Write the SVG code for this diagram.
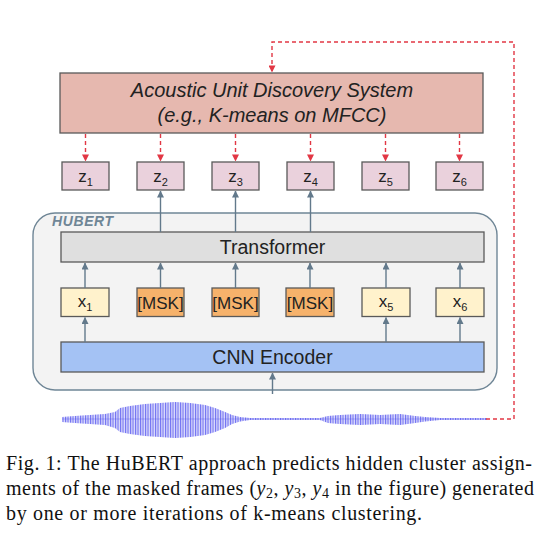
<svg xmlns="http://www.w3.org/2000/svg" width="548" height="543" viewBox="0 0 548 543">
<style>
.box{stroke:#595959;stroke-width:1.3}
.lbl{font-family:"Liberation Sans",Arial,sans-serif;fill:#222;text-anchor:middle}
.arr{stroke:#62798b;stroke-width:1.4;fill:none}
.red{stroke:#e23744;stroke-width:1.4;fill:none;stroke-dasharray:4 3}
.cap{font-family:"Liberation Serif","Times New Roman",serif;font-size:20px;fill:#111}
</style>
<defs>
<marker id="ag" viewBox="0 0 8 8" refX="7.5" refY="4" markerWidth="7" markerHeight="7" markerUnits="userSpaceOnUse" orient="auto"><path d="M0,0 L8,4 L0,8 z" fill="#62798b"/></marker>
<marker id="ar" viewBox="0 0 8 8" refX="7.5" refY="4" markerWidth="7" markerHeight="7" markerUnits="userSpaceOnUse" orient="auto"><path d="M0,0 L8,4 L0,8 z" fill="#e23744"/></marker>
<pattern id="wv" width="2.5" height="60" patternUnits="userSpaceOnUse"><rect x="0" y="0" width="1.1" height="60" fill="#4a4aee" fill-opacity="0.75"/></pattern>
</defs>
<rect width="548" height="543" fill="#fff"/>

<g id="hubert">
<rect x="33" y="213" width="464" height="177" rx="22" fill="#f3f3f3" stroke="#6f8696" stroke-width="1.4"/>
<text x="52" y="226" font-family="Liberation Sans,Arial,sans-serif" font-size="14" font-weight="bold" font-style="italic" fill="#6f8696" letter-spacing="0.6">HUBERT</text>
</g>

<g id="acoustic">
<rect class="box" x="60" y="73" width="423" height="60" fill="#e6b8af"/>
<text class="lbl" x="272" y="97" font-size="20" font-style="italic">Acoustic Unit Discovery System</text>
<text class="lbl" x="272" y="122" font-size="20" font-style="italic">(e.g., K-means on MFCC)</text>
</g>

<g id="z1"><rect class="box" x="62" y="162" width="47" height="28" fill="#ead1dc"/><text class="lbl" x="85.5" y="182" font-size="17">z<tspan font-size="11" dy="4">1</tspan></text></g>
<g id="z2"><rect class="box" x="137" y="162" width="47" height="28" fill="#ead1dc"/><text class="lbl" x="160.5" y="182" font-size="17">z<tspan font-size="11" dy="4">2</tspan></text></g>
<g id="z3"><rect class="box" x="212" y="162" width="47" height="28" fill="#ead1dc"/><text class="lbl" x="235.5" y="182" font-size="17">z<tspan font-size="11" dy="4">3</tspan></text></g>
<g id="z4"><rect class="box" x="287" y="162" width="47" height="28" fill="#ead1dc"/><text class="lbl" x="310.5" y="182" font-size="17">z<tspan font-size="11" dy="4">4</tspan></text></g>
<g id="z5"><rect class="box" x="362" y="162" width="47" height="28" fill="#ead1dc"/><text class="lbl" x="385.5" y="182" font-size="17">z<tspan font-size="11" dy="4">5</tspan></text></g>
<g id="z6"><rect class="box" x="436" y="162" width="47" height="28" fill="#ead1dc"/><text class="lbl" x="459.5" y="182" font-size="17">z<tspan font-size="11" dy="4">6</tspan></text></g>

<g id="transformer">
<rect class="box" x="61" y="232" width="423" height="30" fill="#dfdfdf"/>
<text class="lbl" x="272.5" y="254" font-size="19.5">Transformer</text>
</g>

<g id="x1"><rect class="box" x="61" y="288" width="48" height="28.5" fill="#fff2cc"/><text class="lbl" x="85" y="307" font-size="17">x<tspan font-size="11" dy="4">1</tspan></text></g>
<g id="msk2"><rect class="box" x="137" y="288" width="47" height="28.5" fill="#f6b26b"/><text class="lbl" x="160.5" y="309" font-size="17">[MSK]</text></g>
<g id="msk3"><rect class="box" x="212" y="288" width="47" height="28.5" fill="#f6b26b"/><text class="lbl" x="235.5" y="309" font-size="17">[MSK]</text></g>
<g id="msk4"><rect class="box" x="286" y="288" width="48" height="28.5" fill="#f6b26b"/><text class="lbl" x="310" y="309" font-size="17">[MSK]</text></g>
<g id="x5"><rect class="box" x="362" y="288" width="48" height="28.5" fill="#fff2cc"/><text class="lbl" x="386" y="307" font-size="17">x<tspan font-size="11" dy="4">5</tspan></text></g>
<g id="x6"><rect class="box" x="436" y="288" width="48" height="28.5" fill="#fff2cc"/><text class="lbl" x="460" y="307" font-size="17">x<tspan font-size="11" dy="4">6</tspan></text></g>

<g id="cnn">
<rect class="box" x="61" y="342" width="423" height="30" fill="#a4c2f4"/>
<text class="lbl" x="272.5" y="364" font-size="19.5">CNN Encoder</text>
</g>

<g id="waveform">
<path d="M62,419 H487" stroke="#7c7cf0" stroke-width="1" stroke-opacity="0.8"/>
<path d="M62,417 L75,416 L90,415 L105,414 L115,412 L120,408 L130,406 L145,404 L160,403 L175,402 L190,403 L205,405 L215,408 L225,412 L232,415 L240,417 L250,418 L320,418 L328,416 L340,415 L360,414 L380,415 L400,414 L415,416 L425,417 L440,418 L487,418 L487,420 L440,420 L425,421.5 L415,423 L400,425 L380,424 L360,425 L340,424 L328,423 L320,420 L250,420 L240,421.5 L232,424 L225,428 L215,432 L205,435 L190,437 L175,438 L160,437 L145,436 L130,434 L120,432 L115,428 L105,425 L90,424 L75,423 L62,422 Z" fill="#b9b9f7" fill-opacity="0.5"/>
<path d="M62,417 L75,416 L90,415 L105,414 L115,412 L120,408 L130,406 L145,404 L160,403 L175,402 L190,403 L205,405 L215,408 L225,412 L232,415 L240,417 L250,418 L320,418 L328,416 L340,415 L360,414 L380,415 L400,414 L415,416 L425,417 L440,418 L487,418 L487,420 L440,420 L425,421.5 L415,423 L400,425 L380,424 L360,425 L340,424 L328,423 L320,420 L250,420 L240,421.5 L232,424 L225,428 L215,432 L205,435 L190,437 L175,438 L160,437 L145,436 L130,434 L120,432 L115,428 L105,425 L90,424 L75,423 L62,422 Z" fill="url(#wv)"/>
</g>

<g id="connectors">
<path class="red" d="M486,419 H514 V42 H272 V72" marker-end="url(#ar)"/>
<path class="red" d="M85.5,134 V161" marker-end="url(#ar)"/>
<path class="red" d="M160.5,134 V161" marker-end="url(#ar)"/>
<path class="red" d="M235.5,134 V161" marker-end="url(#ar)"/>
<path class="red" d="M310.5,134 V161" marker-end="url(#ar)"/>
<path class="red" d="M385.5,134 V161" marker-end="url(#ar)"/>
<path class="red" d="M459.5,134 V161" marker-end="url(#ar)"/>
<path class="arr" d="M160.5,232 V191" marker-end="url(#ag)"/>
<path class="arr" d="M235.5,232 V191" marker-end="url(#ag)"/>
<path class="arr" d="M310.5,232 V191" marker-end="url(#ag)"/>
<path class="arr" d="M85,288 V263" marker-end="url(#ag)"/>
<path class="arr" d="M160.5,288 V263" marker-end="url(#ag)"/>
<path class="arr" d="M235.5,288 V263" marker-end="url(#ag)"/>
<path class="arr" d="M310,288 V263" marker-end="url(#ag)"/>
<path class="arr" d="M386,288 V263" marker-end="url(#ag)"/>
<path class="arr" d="M460,288 V263" marker-end="url(#ag)"/>
<path class="arr" d="M85,342 V317.5" marker-end="url(#ag)"/>
<path class="arr" d="M386,342 V317.5" marker-end="url(#ag)"/>
<path class="arr" d="M460,342 V317.5" marker-end="url(#ag)"/>
<path class="arr" d="M272.5,394 V373" marker-end="url(#ag)"/>
</g>

<g id="caption">
<text class="cap" x="6" y="470" textLength="526" lengthAdjust="spacing">Fig. 1: The HuBERT approach predicts hidden cluster assign-</text>
<text class="cap" x="6" y="495" textLength="528" lengthAdjust="spacing">ments of the masked frames (<tspan font-style="italic">y</tspan><tspan font-size="14" dy="3">2</tspan><tspan dy="-3">, </tspan><tspan font-style="italic">y</tspan><tspan font-size="14" dy="3">3</tspan><tspan dy="-3">, </tspan><tspan font-style="italic">y</tspan><tspan font-size="14" dy="3">4</tspan><tspan dy="-3"> in the figure) generated</tspan></text>
<text class="cap" x="6" y="520" textLength="416" lengthAdjust="spacing">by one or more iterations of k-means clustering.</text>
</g>
</svg>
